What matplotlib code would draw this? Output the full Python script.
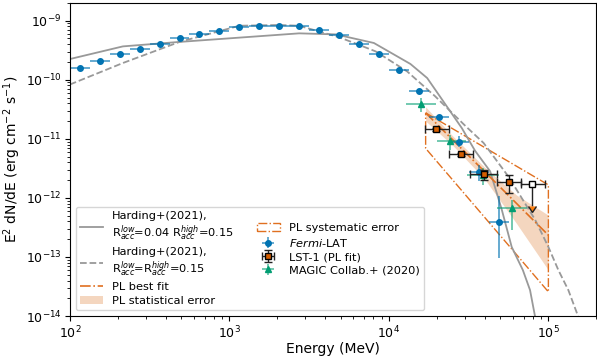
import matplotlib
matplotlib.use("Agg")
import matplotlib.pyplot as plt
import matplotlib.colors as mcolors
from matplotlib.patches import Polygon
import numpy as np

# Fermi-LAT spectral points (MeV, erg cm-2 s-1)
fermi_e = [115, 154, 205, 274, 365, 487, 649, 866, 1155, 1540, 2054, 2738,
           3652, 4870, 6494, 8660, 11548, 15399, 20535, 27384, 36517, 48697]
fermi_edges = [100, 133, 178, 237, 316, 422, 562, 750, 1000, 1334, 1778, 2371,
               3162, 4217, 5623, 7499, 10000, 13335, 17783, 23714, 31623, 42170, 56234]
fermi_f = [1.58e-10, 2.1e-10, 2.68e-10, 3.27e-10, 4.07e-10, 5.0e-10, 6.0e-10, 6.77e-10,
           7.7e-10, 8.1e-10, 8.1e-10, 8.0e-10, 6.9e-10, 5.7e-10, 4.1e-10, 2.72e-10,
           1.44e-10, 6.5e-11, 2.3e-11, 9.0e-12, 2.7e-12, 3.9e-13]
fermi_f_lo = [1.5e-10, 2.0e-10, 2.57e-10, 3.15e-10, 3.93e-10, 4.85e-10, 5.85e-10, 6.6e-10,
              7.5e-10, 7.9e-10, 7.9e-10, 7.8e-10, 6.7e-10, 5.5e-10, 3.95e-10, 2.6e-10,
              1.36e-10, 6.0e-11, 2.05e-11, 7.4e-12, 1.9e-12, 9.5e-14]
fermi_f_hi = [1.66e-10, 2.2e-10, 2.8e-10, 3.4e-10, 4.2e-10, 5.15e-10, 6.15e-10, 6.95e-10,
              7.9e-10, 8.3e-10, 8.3e-10, 8.2e-10, 7.1e-10, 5.9e-10, 4.25e-10, 2.85e-10,
              1.52e-10, 7.0e-11, 2.55e-11, 1.1e-11, 3.6e-12, 1.07e-12]

# MAGIC Collab.+ (2020)
magic_e = [15850, 24270, 38900, 59570]
magic_e_lo = [12820, 19950, 30900, 47530]
magic_e_hi = [19770, 30550, 48980, 73110]
magic_f = [3.92e-11, 9.3e-12, 2.45e-12, 6.7e-13]
magic_f_lo = [2.9e-11, 6.5e-12, 1.66e-12, 2.9e-13]
magic_f_hi = [4.9e-11, 1.17e-11, 3.2e-12, 9.3e-13]

# LST-1 (PL fit) points + upper limit
lst_e = [19860, 28180, 39630, 56230]
lst_e_lo = [16940, 23710, 32360, 47530]
lst_e_hi = [23710, 33650, 47530, 67450]
lst_f = [1.46e-11, 5.5e-12, 2.58e-12, 1.84e-12]
lst_f_lo = [1.38e-11, 5.2e-12, 2.02e-12, 1.2e-12]
lst_f_hi = [1.55e-11, 5.8e-12, 2.98e-12, 2.45e-12]
ul_e = [79070]
ul_e_lo = [67450]
ul_e_hi = [95500]
ul_f = [1.7e-12]
ul_f_end = [7.4e-13]

# Harding+(2021) models
hard1_e = [100, 215, 487, 2738, 4645, 8054, 13650, 17380, 28710, 34670, 43150,
           51050, 58880, 69180, 76740, 85110]
hard1_f = [2.24e-10, 3.67e-10, 4.37e-10, 6.1e-10, 5.86e-10, 4.19e-10, 1.85e-10, 1.07e-10,
           1.51e-11, 6.3e-12, 2.82e-12, 6.3e-13, 1.48e-13, 6.0e-14, 2.75e-14, 6.3e-15]
hard2_e = [100, 215, 487, 1155, 2054, 2738, 4870, 6457, 8260, 13030, 19500, 30130,
           39260, 56230, 82600, 100000, 115500, 133400, 158500]
hard2_f = [8.3e-11, 1.92e-10, 4.37e-10, 8.2e-10, 8.45e-10, 8.2e-10, 5.25e-10, 3.92e-10,
           3.02e-10, 1.38e-10, 5.25e-11, 1.66e-11, 8.5e-12, 2.29e-12, 4.27e-13, 1.48e-13,
           6.0e-14, 2.75e-14, 7.9e-15]

# PL fit, statistical band, systematic envelope
pl_e = [17000, 100000]
pl_f = [2.75e-11, 2.34e-13]
stat_e = [17000, 25120, 39810, 63100, 100000]
stat_hi = [3.47e-11, 1.12e-11, 3.31e-12, 1.12e-12, 5.1e-13]
stat_lo = [2.0e-11, 7.76e-12, 2.09e-12, 3.7e-13, 6.0e-14]
sys_e = [17000, 100000, 100000, 17000]
sys_f = [2.75e-11, 1.66e-12, 2.57e-14, 6.9e-12]

blue = '#0173b2'
green = '#029e73'
verm = '#d55e00'
orange = '#e07020'


def asym(v, lo, hi):
    v = np.array(v)
    return [v - np.array(lo), np.array(hi) - v]


fig = plt.figure(figsize=(5.97, 3.6), dpi=100)
ax = fig.add_axes([0.117, 0.122, 0.882, 0.870])

h1, = ax.plot(hard1_e, hard1_f, color='#999999', lw=1.3,
              label='Harding+(2021),\nR$_{acc}^{low}$=0.04 R$_{acc}^{high}$=0.15')
h2, = ax.plot(hard2_e, hard2_f, color='#999999', lw=1.3, ls='--',
              label='Harding+(2021),\nR$_{acc}^{low}$=R$_{acc}^{high}$=0.15')
hpl, = ax.plot(pl_e, pl_f, color=orange, lw=1.2, ls='-.', label='PL best fit')
hst = ax.fill_between(stat_e, stat_lo, stat_hi, color=verm, alpha=0.25, lw=0,
                      label='PL statistical error')
sys_poly = Polygon(np.column_stack([sys_e, sys_f]), closed=True, fill=False,
                   edgecolor=orange, ls='-.', lw=1.0, label='PL systematic error')
ax.add_patch(sys_poly)

hf = ax.errorbar(fermi_e, fermi_f,
                 xerr=[np.array(fermi_e) - np.array(fermi_edges[:-1]),
                       np.array(fermi_edges[1:]) - np.array(fermi_e)],
                 yerr=asym(fermi_f, fermi_f_lo, fermi_f_hi),
                 fmt='o', ms=4, color=blue, ecolor=mcolors.to_rgba(blue, 0.65),
                 elinewidth=1.3, label=r'$\it{Fermi}$-LAT')
hl = ax.errorbar(lst_e, lst_f, xerr=asym(lst_e, lst_e_lo, lst_e_hi),
                 yerr=asym(lst_f, lst_f_lo, lst_f_hi),
                 fmt='s', ms=5, mfc=verm, mec='k', mew=1.0, ecolor='#222222',
                 elinewidth=1.0, capsize=3, label='LST-1 (PL fit)', zorder=5)
ax.errorbar(ul_e, ul_f, xerr=asym(ul_e, ul_e_lo, ul_e_hi),
            yerr=[np.array(ul_f) - np.array(ul_f_end), [0]], uplims=True,
            fmt='s', ms=5, mfc='white', mec='k', mew=1.0, ecolor='#222222',
            elinewidth=1.0, capsize=3, zorder=5)
hm = ax.errorbar(magic_e, magic_f, xerr=asym(magic_e, magic_e_lo, magic_e_hi),
                 yerr=asym(magic_f, magic_f_lo, magic_f_hi),
                 fmt='^', ms=4, color=green, ecolor=mcolors.to_rgba(green, 0.6),
                 elinewidth=1.3, label='MAGIC Collab.+ (2020)')

ax.set_xscale('log')
ax.set_yscale('log')
ax.set_xlim(100, 2e5)
ax.set_ylim(1e-14, 2e-9)
ax.set_xlabel('Energy (MeV)', fontsize=10, labelpad=1)
ax.set_ylabel('E$^2$ dN/dE (erg cm$^{-2}$ s$^{-1}$)', fontsize=10, labelpad=2)
ax.tick_params(labelsize=9, pad=2.5)

ax.legend(handles=[h1, h2, hpl, hst, sys_poly, hf, hl, hm], loc='lower left',
          ncol=2, fontsize=8.2, labelspacing=0.3)

fig.savefig('out.png', dpi=100)
